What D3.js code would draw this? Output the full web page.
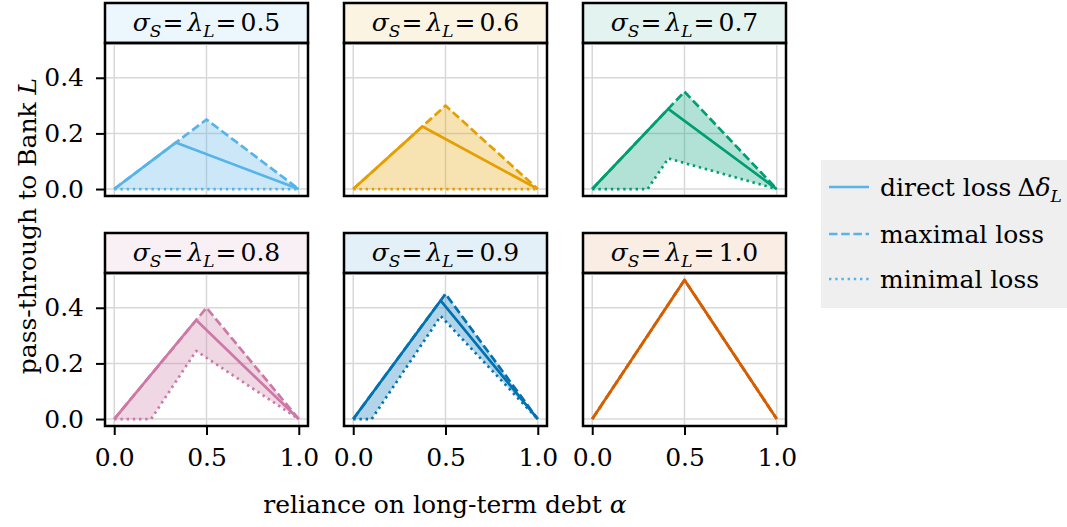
<!DOCTYPE html>
<html>
<head>
<meta charset="utf-8">
<script src="https://cdn.jsdelivr.net/npm/d3@7"></script>
<style>
  body { margin: 0; background: #fff; }
</style>
</head>
<body>
<div id="chartArea"></div>
<script>
// panel parameter sigma_S = lambda_L
var sigmas = ['0.5', '0.6', '0.7', '0.8', '0.9', '1.0'];
var colors = ['#56B4E9', '#E69F00', '#009E73', '#CC79A7', '#0072B2', '#D55E00'];

// direct loss: (0,0) -> peak -> (1,0)
var directPeakAlpha = [0.333, 0.375, 0.412, 0.444, 0.474, 0.5];
var directPeakValue = [0.167, 0.225, 0.288, 0.356, 0.426, 0.5];

// maximal loss: (0,0) -> (0.5, peak) -> (1,0)
var maxPeakValue = [0.25, 0.30, 0.35, 0.40, 0.45, 0.50];

// minimal loss: zero up to minZeroUntil, then up to a kink, then down to (1,0)
var minZeroUntil = [1.0, 1.0, 0.30, 0.20, 0.10, 0.0];
var minKinkAlpha = [null, null, 0.412, 0.444, 0.474, 0.5];
var minKinkValue = [null, null, 0.11, 0.245, 0.37, 0.5];

var xTicks = [0, 0.5, 1];
var yTicks = [0, 0.2, 0.4];
var xTickLabels = ['0.0', '0.5', '1.0'];
var yTickLabels = ['0.0', '0.2', '0.4'];

var legendLabels = ['direct loss', 'maximal loss', 'minimal loss'];

var W = 1067, H = 527;
var colX = [105, 344, 583], rowY = [43, 273];
var pw = 203, ph = 153, titleH = 40;
var lw = 2.7;
var dashes = [null, '8.5,3.7', '2.4,3.8'];

var font = 'DejaVu Serif';
var fs = 25, fsSub = 17;

var svg = d3.select('#chartArea').append('svg')
    .attr('width', W)
    .attr('height', H)
    .attr('font-family', font);

var xScale = d3.scaleLinear().domain([-0.05, 1.05]).range([0, pw]);
var yScale = d3.scaleLinear().domain([-0.025, 0.525]).range([ph, 0]);

var line = d3.line()
    .x(function(d) { return xScale(d[0]); })
    .y(function(d) { return yScale(d[1]); });

function mathTitle(sel, value) {
    sel.append('tspan').attr('font-style', 'italic').text('σ');
    sel.append('tspan').attr('font-style', 'italic').attr('font-size', fsSub).attr('dy', 6).text('S');
    sel.append('tspan').attr('dy', -6).attr('dx', 1).text('=');
    sel.append('tspan').attr('font-style', 'italic').attr('dx', 4).text('λ');
    sel.append('tspan').attr('font-style', 'italic').attr('font-size', fsSub).attr('dy', 6).text('L');
    sel.append('tspan').attr('dy', -6).attr('dx', 1).text('=');
    sel.append('tspan').attr('dx', 4).text(value);
}

sigmas.forEach(function(s, i) {
    var row = Math.floor(i / 3), col = i % 3;
    var c = colors[i];
    var g = svg.append('g')
        .attr('transform', 'translate(' + colX[col] + ', ' + rowY[row] + ')');

    // title box
    g.append('rect')
        .attr('x', 0).attr('y', -titleH)
        .attr('width', pw).attr('height', titleH)
        .attr('fill', c).attr('fill-opacity', 0.11);
    g.append('rect')
        .attr('x', 0).attr('y', -titleH)
        .attr('width', pw).attr('height', titleH)
        .attr('fill', 'none').attr('stroke', '#000').attr('stroke-width', 2.5);
    var t = g.append('text')
        .attr('x', pw / 2).attr('y', -titleH + 28)
        .attr('text-anchor', 'middle')
        .attr('font-size', fs);
    mathTitle(t, s);

    // grid
    g.selectAll('.gx').data(xTicks).enter().append('line')
        .attr('x1', function(d) { return xScale(d); })
        .attr('x2', function(d) { return xScale(d); })
        .attr('y1', 0).attr('y2', ph)
        .attr('stroke', '#d8d8d8').attr('stroke-width', 1.5);
    g.selectAll('.gy').data(yTicks).enter().append('line')
        .attr('y1', function(d) { return yScale(d); })
        .attr('y2', function(d) { return yScale(d); })
        .attr('x1', 0).attr('x2', pw)
        .attr('stroke', '#d8d8d8').attr('stroke-width', 1.5);

    var direct = [[0, 0], [directPeakAlpha[i], directPeakValue[i]], [1, 0]];
    var maxL = [[0, 0], [0.5, maxPeakValue[i]], [1, 0]];
    var minL = [[0, 0], [minZeroUntil[i], 0]];
    if (minKinkAlpha[i] !== null) {
        minL.push([minKinkAlpha[i], minKinkValue[i]]);
        minL.push([1, 0]);
    }

    // band between minimal and maximal loss
    g.append('path')
        .attr('d', line(maxL.concat(minL.slice().reverse())) + 'Z')
        .attr('fill', c).attr('fill-opacity', 0.3);

    [minL, maxL, direct].forEach(function(pts, k) {
        var di = 2 - k;
        g.append('path')
            .attr('d', line(pts))
            .attr('fill', 'none')
            .attr('stroke', c)
            .attr('stroke-width', lw)
            .attr('stroke-linejoin', 'round')
            .attr('stroke-dasharray', dashes[di]);
    });

    // frame
    g.append('rect')
        .attr('width', pw).attr('height', ph)
        .attr('fill', 'none').attr('stroke', '#000').attr('stroke-width', 2.5);

    if (col === 0) {
        var yAxis = d3.axisLeft(yScale).tickValues(yTicks)
            .tickSize(9).tickPadding(12)
            .tickFormat(function(d, j) { return yTickLabels[j]; });
        var ya = g.append('g').attr('class', 'y-axis').call(yAxis);
        ya.select('.domain').remove();
        ya.selectAll('line').attr('stroke-width', 2);
        ya.attr('font-size', fs).attr('font-family', font);
    }
    if (row === 1) {
        var xAxis = d3.axisBottom(xScale).tickValues(xTicks)
            .tickSize(9).tickPadding(13)
            .tickFormat(function(d, j) { return xTickLabels[j]; });
        var xa = g.append('g').attr('class', 'x-axis')
            .attr('transform', 'translate(0, ' + ph + ')')
            .call(xAxis);
        xa.select('.domain').remove();
        xa.selectAll('line').attr('stroke-width', 2);
        xa.attr('font-size', fs).attr('font-family', font);
    }
});

// axis labels
var yl = svg.append('text')
    .attr('transform', 'translate(36, 226) rotate(-90)')
    .attr('text-anchor', 'middle')
    .attr('font-size', fs);
yl.append('tspan').text('pass-through to Bank ');
yl.append('tspan').attr('font-style', 'italic').text('L');

var xl = svg.append('text')
    .attr('x', 445).attr('y', 513)
    .attr('text-anchor', 'middle')
    .attr('font-size', fs);
xl.append('tspan').text('reliance on long-term debt ');
xl.append('tspan').attr('font-style', 'italic').text('α');

// legend
var lg = svg.append('g').attr('transform', 'translate(821, 160)');
lg.append('rect')
    .attr('width', 246).attr('height', 148)
    .attr('fill', '#efefef');
var legendY = [27, 74, 119];
legendLabels.forEach(function(lab, k) {
    lg.append('line')
        .attr('x1', 8).attr('x2', 48)
        .attr('y1', legendY[k]).attr('y2', legendY[k])
        .attr('stroke', colors[0]).attr('stroke-width', lw)
        .attr('stroke-dasharray', dashes[k]);
    var tx = lg.append('text')
        .attr('x', 59).attr('y', legendY[k] + 9)
        .attr('font-size', fs);
    tx.append('tspan').text(lab);
    if (k === 0) {
        tx.append('tspan').attr('dx', 6).text('Δ');
        tx.append('tspan').attr('font-style', 'italic').text('δ');
        tx.append('tspan').attr('font-style', 'italic').attr('font-size', fsSub).attr('dy', 6).text('L');
    }
});
</script>
</body>
</html>
